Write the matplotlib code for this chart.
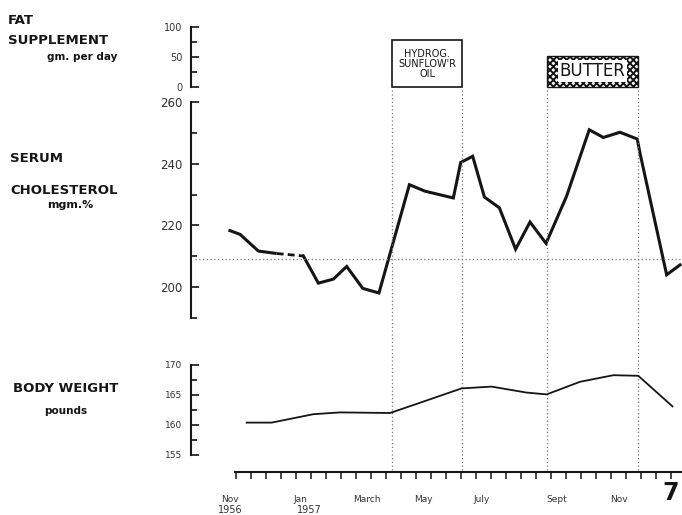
import matplotlib
matplotlib.use("Agg")
import matplotlib.pyplot as plt
from matplotlib.ticker import MultipleLocator

# x positions are in half-month tick units (0 = first tick, Nov 1956)
chol_x1 = [-0.5, 0.27, 1.49, 2.71]
chol_y1 = [218.5, 217.1, 211.7, 210.9]
chol_xgap = [2.71, 4.49]
chol_ygap = [210.9, 210.1]
chol_x2 = [4.49, 5.49, 6.49, 7.38, 8.45, 9.53, 11.56, 12.6, 14.49, 14.98, 15.78,
           16.56, 17.56, 18.64, 19.6, 20.67, 22.04, 23.55, 24.49, 25.6, 26.75,
           26.93, 28.71, 29.6]
chol_y2 = [210.1, 201.3, 202.6, 206.7, 199.6, 198.1, 233.2, 231.1, 228.9, 240.4, 242.4,
           229.2, 225.7, 212.3, 221.1, 214.2, 229.5, 251.0, 248.5, 250.2, 248.0,
           243.5, 204.0, 207.2]
chol_ref = 209

bw_x = [0.71, 2.38, 5.16, 6.93, 10.27, 12.49, 15.04, 17.04, 19.38, 20.71,
        22.93, 25.16, 26.82, 29.1]
bw_y = [160.4, 160.4, 161.8, 162.1, 162.0, 163.9, 166.1, 166.4, 165.4, 165.1,
        167.2, 168.3, 168.2, 163.1]

# fat supplement periods: start, end, gm per day
fat_start = [10.4, 20.73]
fat_end = [15.07, 26.8]
fat_amount = [78, 52]

month_labels = ["Nov", "Jan", "March", "May", "July", "Sept", "Nov"]
month_pos = [-0.4, 4.3, 8.7, 12.5, 16.4, 21.4, 25.5]
year_labels = ["1956", "1957"]
year_pos = [-0.4, 4.9]
n_ticks = 30

plt.rcParams['font.family'] = ['DejaVu Sans']
plt.rcParams['hatch.linewidth'] = 1.4
ink = '#151515'

fig = plt.figure(figsize=(6.82, 5.15), dpi=100)
H = 515.0
W = 682.0
left = 191 / W
width = (W - 191) / W
xlim = (-3, (W - 236) / 15)


def make_axis(top_px, bottom_px):
    ax = fig.add_axes([left, (H - bottom_px) / H, width, (bottom_px - top_px) / H])
    ax.set_xlim(*xlim)
    for s in ['top', 'right', 'bottom']:
        ax.spines[s].set_visible(False)
    ax.spines['left'].set_linewidth(1.5)
    ax.spines['left'].set_color(ink)
    ax.set_xticks([])
    ax.patch.set_alpha(0)
    ax.tick_params(axis='y', which='both', direction='in', colors=ink, width=1.2)
    ax.tick_params(axis='y', which='major', length=6, pad=6)
    ax.tick_params(axis='y', which='minor', length=4)
    return ax


# fat supplement
ax_fat = make_axis(27, 87)
ax_fat.set_ylim(0, 100)
ax_fat.yaxis.set_minor_locator(MultipleLocator(25))
ax_fat.set_yticks([0, 50, 100])
ax_fat.set_yticklabels(["0", "50", "100"], fontsize=7, color='#333')

ax_fat.bar(fat_start[0], fat_amount[0], width=fat_end[0] - fat_start[0], align='edge',
           facecolor='white', edgecolor=ink, linewidth=1.2, clip_on=False)
ax_fat.text((fat_start[0] + fat_end[0]) / 2, fat_amount[0] / 2 - 1,
            "HYDROG.\nSUNFLOW'R\nOIL", ha='center', va='center', fontsize=7,
            linespacing=1.0, color=ink)
ax_fat.bar(fat_start[1], fat_amount[1], width=fat_end[1] - fat_start[1], align='edge',
           facecolor='white', edgecolor=ink, linewidth=1.0, hatch='xxxxx', clip_on=False)
ax_fat.text((fat_start[1] + fat_end[1]) / 2, fat_amount[1] / 2, "BUTTER",
            ha='center', va='center', fontsize=12, color=ink,
            bbox=dict(boxstyle='square,pad=0.12', facecolor='white', edgecolor='none'))

# serum cholesterol
ax_ch = make_axis(102, 318)
ax_ch.set_ylim(190, 260)
ax_ch.yaxis.set_minor_locator(MultipleLocator(10))
ax_ch.set_yticks([200, 220, 240, 260])
ax_ch.set_yticklabels(["200", "220", "240", "260"], fontsize=8.5, color='#333')
ax_ch.plot(chol_x1, chol_y1, color=ink, lw=2.2, solid_capstyle='butt')
ax_ch.plot(chol_xgap, chol_ygap, color=ink, lw=2.0, linestyle=(0, (2.5, 1.5)))
ax_ch.plot(chol_x2, chol_y2, color=ink, lw=2.2, solid_joinstyle='miter')
ax_ch.axhline(chol_ref, xmin=0.008, xmax=1, color='#777', lw=0.9, linestyle=(0, (1, 2)))
for xv in fat_start + fat_end:
    ax_ch.axvline(xv, ymin=-0.704, ymax=1.065, color='#777', lw=0.9,
                  linestyle=(0, (1, 2)), clip_on=False)

# body weight
ax_bw = make_axis(365, 455)
ax_bw.set_ylim(155, 170)
ax_bw.set_yticks([155, 160, 165, 170])
ax_bw.yaxis.set_minor_locator(MultipleLocator(2.5))
ax_bw.set_yticklabels(["155", "160", "165", "170"], fontsize=6.5, color='#333')
ax_bw.plot(bw_x, bw_y, color=ink, lw=1.3)

# time axis
ax_x = fig.add_axes([left, (H - 472) / H, width, 0.001])
ax_x.set_xlim(*xlim)
for s in ['top', 'right', 'left']:
    ax_x.spines[s].set_visible(False)
ax_x.spines['bottom'].set_bounds(-0.07, xlim[1])
ax_x.spines['bottom'].set_linewidth(1.5)
ax_x.spines['bottom'].set_color(ink)
ax_x.set_yticks([])
ax_x.set_xticks(range(n_ticks))
ax_x.set_xticklabels([])
ax_x.tick_params(axis='x', direction='out', length=5, width=1.1, colors=ink)
ax_x.patch.set_alpha(0)
for lab, xp in zip(month_labels, month_pos):
    ax_x.annotate(lab, (xp, 0), xycoords=('data', 'axes fraction'), xytext=(0, -20),
                  textcoords='offset points', ha='center', va='center',
                  fontsize=6.5, color='#333')
for lab, xp in zip(year_labels, year_pos):
    ax_x.annotate(lab, (xp, 0), xycoords=('data', 'axes fraction'), xytext=(0, -27.5),
                  textcoords='offset points', ha='center', va='center',
                  fontsize=7, color='#333')

# left side labels
bold = dict(fontsize=9.5, fontweight='bold', color=ink)
fig.text(8 / W, 1 - 20 / H, "FAT", ha='left', va='center', **bold)
fig.text(8 / W, 1 - 41 / H, "SUPPLEMENT", ha='left', va='center', **bold)
fig.text(117 / W, 1 - 57 / H, "gm. per day", ha='right', va='center',
         fontsize=7.5, fontweight='bold', color=ink)
fig.text(10 / W, 1 - 159 / H, "SERUM", ha='left', va='center', **bold)
fig.text(10 / W, 1 - 190 / H, "CHOLESTEROL", ha='left', va='center', **bold)
fig.text(70 / W, 1 - 205 / H, "mgm.%", ha='center', va='center',
         fontsize=8, fontweight='bold', color=ink)
fig.text(66 / W, 1 - 388 / H, "BODY WEIGHT", ha='center', va='center', **bold)
fig.text(66 / W, 1 - 411 / H, "pounds", ha='center', va='center',
         fontsize=7.5, fontweight='bold', color=ink)
fig.text(671 / W, 1 - 493 / H, "7", ha='center', va='center', fontsize=17,
         fontweight='bold', color=ink)

fig.savefig("out.png", dpi=100, facecolor='white')
